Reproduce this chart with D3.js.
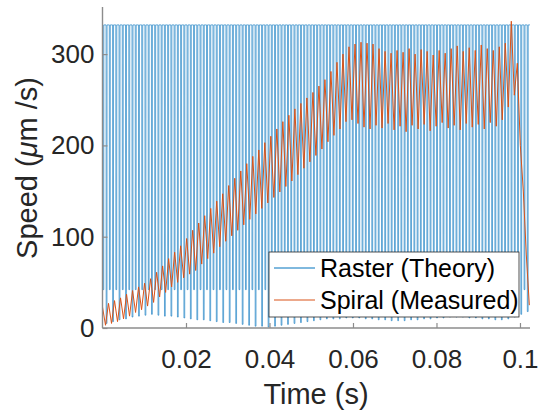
<!DOCTYPE html>
<html>
<head>
<meta charset="utf-8">
<script src="https://cdn.jsdelivr.net/npm/d3@7"></script>
<style>
  html, body { margin: 0; padding: 0; background: #fff; }
  text { font-family: "Liberation Sans", Arial, sans-serif; }
</style>
</head>
<body>
<div id="chart-container"></div>
<script>
// raster (theory): flat scan speed with a turnaround dip each line
const rasterTop = 332;
const rasterShallow = 42;
const rasterStart = 0.0002;
const rasterPeriod = 0.000776;
// every other turnaround goes deeper, these are the depths of those
const rasterDeep = [5, 7, 9, 10, 12, 13, 14, 15, 14, 13, 13, 12, 11, 10, 9, 9, 8, 7, 6, 6,
  5, 4, 3, 2, 2, 1, 2, 3, 4, 5, 6, 7, 8, 9, 10, 10,
  10, 11, 11, 11, 10, 10, 9, 9, 8, 8, 8, 9, 9, 10, 10,
  11, 11, 12, 12, 12, 11, 11, 10, 10, 9, 9, 10, 12, 15, 18];

// spiral (measured): peaks and troughs, one every spiralStep seconds
const spiralStep = 0.00072;
const spiralSpeed = [23, 3, 27, 5, 30, 7, 33, 10, 37, 13,
  41, 17, 45, 20, 49, 24, 54, 28, 61, 34,
  68, 39, 76, 45, 83, 50, 90, 55, 98, 59,
  107, 63, 115, 70, 123, 76, 131, 82, 139, 89,
  147, 95, 156, 101, 164, 107, 172, 113, 180, 119,
  188, 125, 195, 131, 203, 137, 210, 143, 218, 149,
  226, 155, 233, 161, 240, 168, 246, 175, 252, 182,
  258, 189, 265, 196, 272, 204, 281, 211, 291, 218,
  300, 226, 308, 228, 311, 224, 313, 220, 312, 218,
  311, 222, 306, 219, 303, 224, 301, 217, 304, 221,
  302, 215, 306, 222, 300, 218, 305, 223, 303, 216,
  299, 221, 304, 225, 301, 219, 306, 222, 309, 217,
  303, 224, 307, 220, 304, 223, 310, 218, 306, 225,
  304, 221, 308, 228, 312, 242, 336, 255, 290, 200,
  150, 80, 25];

const xTicks = [0.02, 0.04, 0.06, 0.08, 0.1];
const yTicks = [0, 100, 200, 300];
const seriesNames = ["Raster (Theory)", "Spiral (Measured)"];
const seriesColors = ["#0072BD", "#D95319"];

const width = 541, height = 410;

var svg = d3.select("#chart-container")
  .append("svg")
  .attr("width", width)
  .attr("height", height);

const x = d3.scaleLinear().domain([0, 0.1024]).range([102.5, 530]);
const y = d3.scaleLinear().domain([0, 351.6]).range([328, 7]);

// build raster points from the dips (narrow flat-bottomed turnarounds)
const raster = [[0, rasterTop]];
const w = 0.00012;
for (let k = 0; k < rasterDeep.length * 2; k++) {
  const t = rasterStart + k * rasterPeriod;
  const low = k % 2 === 0 ? rasterShallow : rasterDeep[(k - 1) / 2];
  raster.push([t - w, rasterTop], [t - w * 0.8, low], [t + w * 0.8, low], [t + w, rasterTop]);
}
raster.push([0.1024, rasterTop]);

const spiral = spiralSpeed.map((v, j) => [j * spiralStep, v]);

const line = d3.line()
  .x(d => x(d[0]))
  .y(d => y(d[1]));

svg.append("defs").append("clipPath").attr("id", "plot")
  .append("rect")
  .attr("x", 102.5).attr("y", 7).attr("width", 427.5).attr("height", 321);

const plot = svg.append("g").attr("clip-path", "url(#plot)");

plot.append("path")
  .datum(raster)
  .attr("d", line)
  .attr("fill", "none")
  .attr("stroke", seriesColors[0])
  .attr("stroke-width", 0.6)
  .attr("stroke-linejoin", "round");

plot.append("path")
  .datum(spiral)
  .attr("d", line)
  .attr("fill", "none")
  .attr("stroke", seriesColors[1])
  .attr("stroke-width", 1)
  .attr("stroke-linejoin", "round");

// axes (ticks point inward like matlab)
const axisColor = "#8c8c8c";
const textColor = "#262626";

const xAxis = svg.append("g")
  .attr("transform", "translate(0,328)")
  .call(d3.axisBottom(x).tickValues(xTicks).tickSize(-5).tickPadding(22).tickFormat(d3.format("")));

const yAxis = svg.append("g")
  .attr("transform", "translate(102.5,0)")
  .call(d3.axisLeft(y).tickValues(yTicks).tickSize(-5).tickPadding(8));

[xAxis, yAxis].forEach(g => {
  g.select(".domain").attr("stroke", axisColor).attr("stroke-width", 1.4)
    .attr("d", g === xAxis ? "M102.5,0H530" : "M0,7V328");
  g.selectAll(".tick line").attr("stroke", axisColor).attr("stroke-width", 1.2);
  g.selectAll(".tick text")
    .attr("fill", textColor)
    .style("font-size", "26px")
    .style("font-family", "'Liberation Sans', Arial, sans-serif");
});
xAxis.selectAll(".tick text").attr("dy", "0.71em");

// axis labels
svg.append("text")
  .attr("x", 316)
  .attr("y", 404)
  .attr("text-anchor", "middle")
  .attr("fill", textColor)
  .style("font-size", "29px")
  .text("Time (s)");

const yl = svg.append("text")
  .attr("transform", "translate(37,168) rotate(-90)")
  .attr("text-anchor", "middle")
  .attr("fill", textColor)
  .style("font-size", "29px");
yl.append("tspan").text("Speed (");
yl.append("tspan").style("font-style", "italic").text("\u03bc");
yl.append("tspan").text("m /s)");

// legend box
const legend = svg.append("g");
legend.append("rect")
  .attr("x", 269).attr("y", 252)
  .attr("width", 250).attr("height", 65)
  .attr("fill", "#fff")
  .attr("stroke", "#262626")
  .attr("stroke-width", 0.8);

const entries = legend.selectAll(".entry")
  .data(seriesNames)
  .enter()
  .append("g")
  .attr("class", "entry")
  .attr("transform", (d, i) => `translate(0,${268 + i * 32})`);

entries.append("line")
  .attr("x1", 274).attr("x2", 315)
  .attr("stroke", (d, i) => seriesColors[i])
  .attr("stroke-width", 1);

entries.append("text")
  .attr("x", 320)
  .attr("dy", "0.35em")
  .attr("fill", "#000")
  .style("font-size", "25px")
  .text(d => d);
</script>
</body>
</html>
